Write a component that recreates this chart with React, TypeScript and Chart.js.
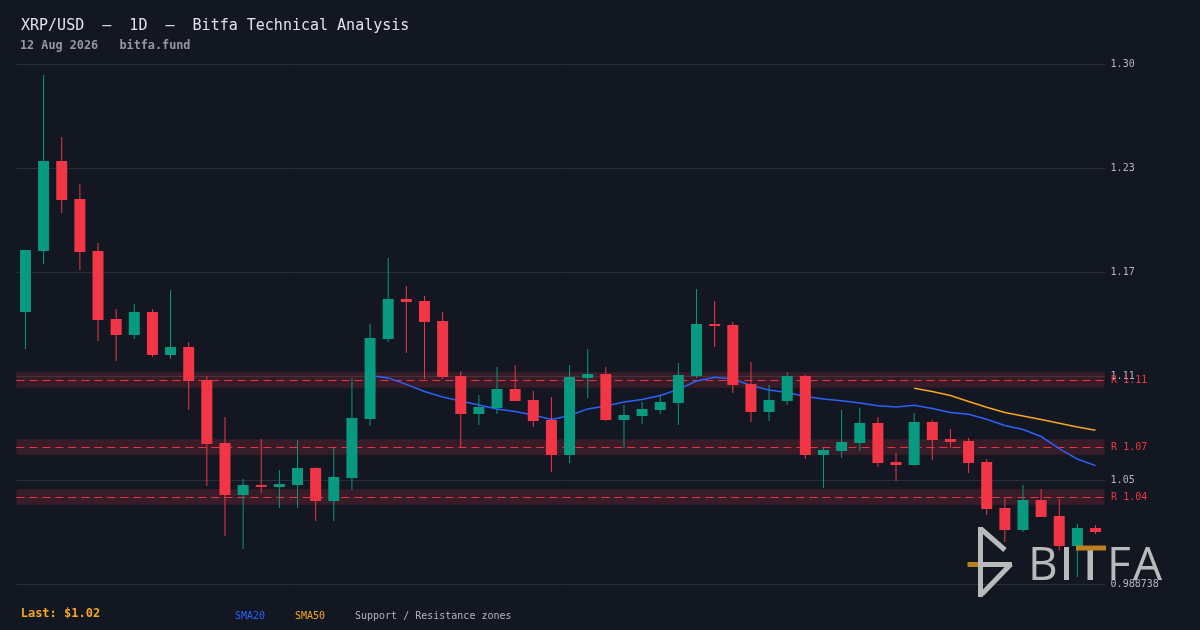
import { useEffect, useRef } from 'react';
import { Chart, registerables } from 'chart.js';

Chart.register(...registerables);

// ---------- data ----------
const DATES = [
  'Jun 14', 'Jun 15', 'Jun 16', 'Jun 17', 'Jun 18', 'Jun 19', 'Jun 20', 'Jun 21', 'Jun 22', 'Jun 23',
  'Jun 24', 'Jun 25', 'Jun 26', 'Jun 27', 'Jun 28', 'Jun 29', 'Jun 30', 'Jul 1', 'Jul 2', 'Jul 3',
  'Jul 4', 'Jul 5', 'Jul 6', 'Jul 7', 'Jul 8', 'Jul 9', 'Jul 10', 'Jul 11', 'Jul 12', 'Jul 13',
  'Jul 14', 'Jul 15', 'Jul 16', 'Jul 17', 'Jul 18', 'Jul 19', 'Jul 20', 'Jul 21', 'Jul 22', 'Jul 23',
  'Jul 24', 'Jul 25', 'Jul 26', 'Jul 27', 'Jul 28', 'Jul 29', 'Jul 30', 'Jul 31', 'Aug 1', 'Aug 2',
  'Aug 3', 'Aug 4', 'Aug 5', 'Aug 6', 'Aug 7', 'Aug 8', 'Aug 9', 'Aug 10', 'Aug 11', 'Aug 12',
];

const OPEN = [
  1.1493, 1.1853, 1.2385, 1.2160, 1.1853, 1.1452, 1.1357, 1.1493, 1.1239, 1.1287,
  1.1092, 1.0720, 1.0413, 1.0472, 1.0460, 1.0472, 1.0572, 1.0377, 1.0513, 1.0861,
  1.1334, 1.1570, 1.1558, 1.1440, 1.1115, 1.0891, 1.0926, 1.1039, 1.0974, 1.0856,
  1.0649, 1.1104, 1.1127, 1.0856, 1.0879, 1.0915, 1.0956, 1.1115, 1.1422, 1.1416,
  1.1068, 1.0903, 1.0968, 1.1115, 1.0649, 1.0672, 1.0720, 1.0838, 1.0608, 1.0590,
  1.0844, 1.0743, 1.0732, 1.0608, 1.0336, 1.0206, 1.0383, 1.0289, 1.0112, 1.0218,
];

const HIGH = [
  1.1859, 1.2892, 1.2526, 1.2249, 1.1900, 1.1511, 1.1540, 1.1511, 1.1623, 1.1316,
  1.1115, 1.0873, 1.0507, 1.0743, 1.0560, 1.0737, 1.0575, 1.0690, 1.1104, 1.1422,
  1.1812, 1.1647, 1.1588, 1.1493, 1.1145, 1.1003, 1.1168, 1.1180, 1.1027, 1.0991,
  1.1180, 1.1275, 1.1168, 1.0944, 1.0962, 1.1003, 1.1192, 1.1629, 1.1558, 1.1434,
  1.1198, 1.1062, 1.1139, 1.1121, 1.0690, 1.0915, 1.0926, 1.0873, 1.0661, 1.0897,
  1.0856, 1.0802, 1.0749, 1.0625, 1.0395, 1.0472, 1.0448, 1.0389, 1.0242, 1.0236,
];

const LOW = [
  1.1275, 1.1776, 1.2078, 1.1741, 1.1322, 1.1204, 1.1334, 1.1227, 1.1216, 1.0915,
  1.0466, 1.0171, 1.0094, 1.0425, 1.0336, 1.0336, 1.0259, 1.0259, 1.0442, 1.0820,
  1.1316, 1.1251, 1.1098, 1.1098, 1.0696, 1.0826, 1.0891, 1.0968, 1.0814, 1.0549,
  1.0602, 1.0985, 1.0850, 1.0690, 1.0832, 1.0891, 1.0826, 1.1104, 1.1287, 1.1015,
  1.0844, 1.0850, 1.0944, 1.0625, 1.0454, 1.0631, 1.0672, 1.0578, 1.0495, 1.0588,
  1.0619, 1.0690, 1.0543, 1.0295, 1.0135, 1.0194, 1.0283, 1.0082, 0.9929, 1.0183,
];

const CLOSE = [
  1.1859, 1.2385, 1.2154, 1.1847, 1.1446, 1.1357, 1.1493, 1.1239, 1.1287, 1.1086,
  1.0714, 1.0413, 1.0472, 1.0460, 1.0478, 1.0572, 1.0377, 1.0519, 1.0867, 1.1340,
  1.1570, 1.1552, 1.1434, 1.1109, 1.0891, 1.0932, 1.1039, 1.0968, 1.0850, 1.0649,
  1.1109, 1.1127, 1.0856, 1.0885, 1.0921, 1.0962, 1.1121, 1.1422, 1.1410, 1.1062,
  1.0903, 1.0974, 1.1115, 1.0649, 1.0678, 1.0726, 1.0838, 1.0602, 1.0590, 1.0844,
  1.0737, 1.0726, 1.0602, 1.0330, 1.0206, 1.0383, 1.0283, 1.0112, 1.0218, 1.0194,
];

const SMA20 = [
  null, null, null, null, null, null, null, null, null, null,
  null, null, null, null, null, null, null, null, null, 1.1118,
  1.1104, 1.1066, 1.1024, 1.0991, 1.0968, 1.0944, 1.0921, 1.0906, 1.0885, 1.0859,
  1.0882, 1.0921, 1.0938, 1.0962, 1.0977, 1.1000, 1.1036, 1.1086, 1.1108, 1.1098,
  1.1059, 1.1033, 1.1018, 1.0994, 1.0980, 1.0969, 1.0956, 1.0940, 1.0932, 1.0942,
  1.0923, 1.0900, 1.0889, 1.0860, 1.0823, 1.0799, 1.0758, 1.0686, 1.0625, 1.0586,
];

const SMA50 = [
  null, null, null, null, null, null, null, null, null, null,
  null, null, null, null, null, null, null, null, null, null,
  null, null, null, null, null, null, null, null, null, null,
  null, null, null, null, null, null, null, null, null, null,
  null, null, null, null, null, null, null, null, null, 1.1043,
  1.1024, 1.1000, 1.0965, 1.0931, 1.0900, 1.0879, 1.0859, 1.0836, 1.0814, 1.0795,
];

const Y_MIN = 0.988738;
const Y_MAX = 1.2957;
const Y_TICKS = [0.988738, 1.0501, 1.1115, 1.1729, 1.2343, 1.2957];
const Y_TICK_LABELS = ['0.988738', '1.05', '1.11', '1.17', '1.23', '1.30'];

const ZONE_LEVELS = [1.1092, 1.0696, 1.0401];
const ZONE_LABELS = ['R 1.11', 'R 1.07', 'R 1.04'];
const ZONE_HALF_WIDTH = 0.0046;

const LAST_PRICE_LABEL = 'Last: $1.02';

// ---------- styles ----------
const BG = '#131722';
const UP = '#089981';
const DOWN = '#f23645';
const BLUE = '#2962ff';
const ORANGE = '#f5a623';
const GRID = '#2a2e39';
const AXIS_TEXT = '#b2b5be';
const MONO = "'DejaVu Sans Mono', monospace";

export default function App() {
  const canvasRef = useRef<HTMLCanvasElement | null>(null);

  useEffect(() => {
    const canvas = canvasRef.current;
    if (!canvas) return;
    const colors = CLOSE.map((c, i) => (c >= OPEN[i] ? UP : DOWN));

    const zonePlugin = {
      id: 'srZones',
      beforeDatasetsDraw(chart: any) {
        const { ctx, chartArea, scales } = chart;
        const y = scales.y;
        ZONE_LEVELS.forEach((level) => {
          const top = y.getPixelForValue(level + ZONE_HALF_WIDTH);
          const bot = y.getPixelForValue(level - ZONE_HALF_WIDTH);
          const mid = Math.round(y.getPixelForValue(level)) + 0.5;
          ctx.save();
          ctx.fillStyle = 'rgba(242, 54, 69, 0.17)';
          ctx.fillRect(chartArea.left, top, chartArea.right - chartArea.left, bot - top);
          ctx.strokeStyle = 'rgba(242, 54, 69, 0.95)';
          ctx.lineWidth = 1;
          ctx.setLineDash([8, 5]);
          ctx.beginPath();
          ctx.moveTo(chartArea.left, mid);
          ctx.lineTo(chartArea.right, mid);
          ctx.stroke();
          ctx.restore();
        });
      },
      afterDraw(chart: any) {
        const { ctx, chartArea, scales } = chart;
        const y = scales.y;
        ctx.save();
        ctx.font = `10px ${MONO}`;
        ctx.fillStyle = DOWN;
        ctx.textAlign = 'left';
        ctx.textBaseline = 'middle';
        ZONE_LEVELS.forEach((level, i) => {
          ctx.fillText(ZONE_LABELS[i], chartArea.right + 6.5, y.getPixelForValue(level));
        });
        ctx.restore();
      },
    };

    const chart = new Chart(canvas, {
      type: 'bar',
      data: {
        labels: DATES,
        datasets: [
          {
            type: 'line',
            label: 'SMA20',
            data: SMA20 as any,
            borderColor: BLUE,
            borderWidth: 1.5,
            pointRadius: 0,
            tension: 0,
            order: 3,
          } as any,
          {
            type: 'line',
            label: 'SMA50',
            data: SMA50 as any,
            borderColor: ORANGE,
            borderWidth: 1.5,
            pointRadius: 0,
            tension: 0,
            order: 2,
          } as any,
          {
            type: 'bar',
            label: 'wick',
            data: LOW.map((l, i) => [l, HIGH[i]]) as any,
            backgroundColor: colors,
            barThickness: 1,
            grouped: false,
            inflateAmount: 0,
            order: 1,
          } as any,
          {
            type: 'bar',
            label: 'body',
            data: OPEN.map((o, i) => [o, CLOSE[i]]) as any,
            backgroundColor: colors,
            barThickness: 11,
            grouped: false,
            inflateAmount: 0,
            order: 0,
          } as any,
        ],
      },
      options: {
        animation: false,
        responsive: false,
        devicePixelRatio: 1,
        events: [],
        layout: { padding: { left: 16.4, top: 64, bottom: 46, right: 0 } },
        plugins: {
          legend: { display: false },
          tooltip: { enabled: false },
          title: { display: false },
        },
        scales: {
          x: {
            type: 'category',
            display: false,
            offset: true,
            grid: { display: false },
          },
          y: {
            position: 'right',
            min: Y_MIN,
            max: Y_MAX,
            afterBuildTicks: (scale: any) => {
              scale.ticks = Y_TICKS.map((v) => ({ value: v }));
            },
            afterFit: (scale: any) => {
              scale.width = 95.4;
            },
            grid: { color: GRID, lineWidth: 1, drawTicks: false },
            border: { display: false },
            ticks: {
              autoSkip: false,
              padding: 6,
              color: AXIS_TEXT,
              font: { family: MONO, size: 10 },
              callback: (_v: any, i: number) => Y_TICK_LABELS[i],
            },
          },
        },
      } as any,
      plugins: [zonePlugin],
    });

    return () => chart.destroy();
  }, []);

  const logoFill = '#cdcdcd';

  return (
    <div
      style={{
        position: 'fixed',
        left: 0,
        top: 0,
        width: 1200,
        height: 630,
        background: BG,
        overflow: 'hidden',
      }}
    >
      <canvas ref={canvasRef} width={1200} height={630} style={{ position: 'absolute', left: 0, top: 0 }} />
      <svg
        width={1200}
        height={630}
        style={{ position: 'absolute', left: 0, top: 0, pointerEvents: 'none' }}
      >
        <text x={21} y={29.5} fontFamily={MONO} fontSize={15} fill="#e0e3eb" style={{ whiteSpace: 'pre' }}>
          {'XRP/USD  —  1D  —  Bitfa Technical Analysis'}
        </text>
        <text x={20} y={49.3} fontFamily={MONO} fontSize={11.8} fontWeight="bold" fill="#9598a1" style={{ whiteSpace: 'pre' }}>
          {'12 Aug 2026   bitfa.fund'}
        </text>

        <text x={20.7} y={617.3} fontFamily={MONO} fontSize={12} fontWeight="bold" fill={ORANGE}>
          {LAST_PRICE_LABEL}
        </text>
        <text x={235} y={619} fontFamily={MONO} fontSize={10} fill={BLUE}>SMA20</text>
        <text x={295} y={619} fontFamily={MONO} fontSize={10} fill={ORANGE}>SMA50</text>
        <text x={355} y={619} fontFamily={MONO} fontSize={10} fill={AXIS_TEXT} style={{ whiteSpace: 'pre' }}>
          {'Support / Resistance zones'}
        </text>

        {/* BITFA watermark logo */}
        <g opacity={0.9}>
          <rect x={967.5} y={562} width={11} height={5} fill="#d08a1e" />
          <g stroke={logoFill} strokeWidth={5} fill="none" strokeLinecap="butt" strokeLinejoin="round">
            <line x1={980.5} y1={527} x2={980.5} y2={597} />
            <line x1={981} y1={529} x2={1005} y2={550} />
            <line x1={983} y1={564.5} x2={1012} y2={564.5} />
            <line x1={1011} y1={564} x2={982} y2={594} />
          </g>
          <text x={1028} y={580} fontFamily="'Open Sans', sans-serif" fontSize={46} fill={logoFill}>B</text>
          <rect x={1064} y={547} width={5} height={33} fill={logoFill} />
          <rect x={1087.5} y={550} width={5.5} height={30} fill={logoFill} />
          <rect x={1076} y={545.5} width={30} height={5} fill="#d08a1e" />
          <text x={1107} y={580} fontFamily="'Open Sans', sans-serif" fontSize={46} fill={logoFill}>F</text>
          <text x={1133} y={580} fontFamily="'Open Sans', sans-serif" fontSize={46} fill={logoFill}>A</text>
        </g>
      </svg>
    </div>
  );
}
